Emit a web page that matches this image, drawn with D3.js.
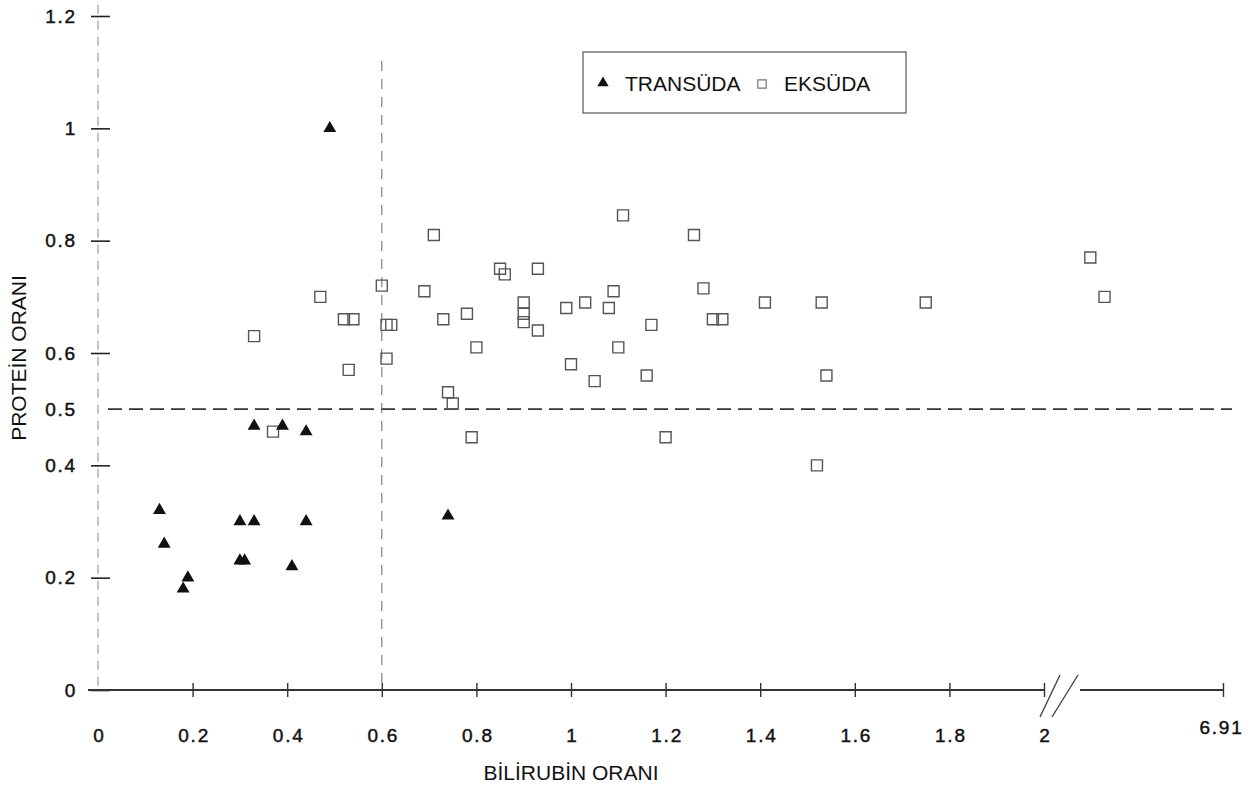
<!DOCTYPE html>
<html>
<head>
<meta charset="utf-8">
<script src="https://cdn.jsdelivr.net/npm/d3@7"></script>
<style>
  body { margin: 0; background: #fff; }
  text { font-family: "Liberation Sans", Arial, sans-serif; fill: #111; }
  .narrow { font-family: "Liberation Sans Narrow", "Arial Narrow", "Liberation Sans", sans-serif; }
  .num { font-family: "Liberation Sans", Arial, sans-serif; font-size: 19px; letter-spacing: 1.8px;
         stroke: #111; stroke-width: 0.45px; }
</style>
</head>
<body>
<svg id="chart" width="1256" height="787"></svg>
<script>
// values
const transudaBilirubin = [0.49, 0.33, 0.39, 0.44, 0.13, 0.14, 0.30, 0.33, 0.44, 0.30, 0.31, 0.41, 0.19, 0.18, 0.74]
const transudaProtein   = [1.00, 0.47, 0.47, 0.46, 0.32, 0.26, 0.30, 0.30, 0.30, 0.23, 0.23, 0.22, 0.20, 0.18, 0.31]

const eksudaBilirubin = [1.11, 1.26, 0.71, 0.85, 0.86, 0.93, 0.60, 0.69, 0.47, 1.28, 1.09, 0.90, 1.03, 1.08, 0.90, 0.99,
  0.52, 0.54, 0.61, 0.62, 0.73, 0.78, 0.90, 0.93, 1.30, 1.32, 1.17, 0.61, 0.80, 1.10, 0.53, 1.00, 1.05, 1.16,
  0.74, 0.75, 0.79, 1.20, 0.33, 0.37, 1.41, 1.53, 1.75, 3.27, 3.66, 1.54, 1.52]
const eksudaProtein = [0.845, 0.81, 0.81, 0.75, 0.74, 0.75, 0.72, 0.71, 0.70, 0.715, 0.71, 0.69, 0.69, 0.68, 0.67, 0.68,
  0.66, 0.66, 0.65, 0.65, 0.66, 0.67, 0.655, 0.64, 0.66, 0.66, 0.65, 0.59, 0.61, 0.61, 0.57, 0.58, 0.55, 0.56,
  0.53, 0.51, 0.45, 0.45, 0.63, 0.46, 0.69, 0.69, 0.69, 0.77, 0.70, 0.56, 0.40]

const xTicks = [0, 0.2, 0.4, 0.6, 0.8, 1, 1.2, 1.4, 1.6, 1.8, 2, 6.91]
const yTicks = [0, 0.2, 0.4, 0.5, 0.6, 0.8, 1, 1.2]
const proteinCut = 0.5
const bilirubinCut = 0.6

const svg = d3.select('#chart')

// broken x axis: 0..2 linear, then a jump to 6.91
const x = d3.scaleLinear().domain([0, 2, 6.91]).range([98, 1044, 1223])
const y = d3.scaleLinear().domain([0, 1.2]).range([690, 16])

// y axis: thin dashed line with crossing ticks
svg.append('line')
  .attr('x1', x(0)).attr('x2', x(0))
  .attr('y1', y(1.22)).attr('y2', y(0))
  .attr('stroke', '#888').attr('stroke-width', 1)
  .attr('stroke-dasharray', '9,7')

const yAxis = svg.append('g')
  .attr('transform', `translate(${x(0)},0)`)
  .call(d3.axisLeft(y).tickValues(yTicks).tickFormat(d3.format('~g')).tickSize(0).tickPadding(21))
yAxis.select('.domain').remove()
yAxis.selectAll('.tick line')
  .attr('x1', -7).attr('x2', 12)
  .attr('stroke', '#222').attr('stroke-width', 1.6)
  .filter(d => d === proteinCut).remove()
yAxis.selectAll('.tick text')
  .attr('class', 'num')
  .attr('fill', '#111')
  .attr('font-size', null).attr('font-family', null)

// x axis: solid line with a break after 2
const axisY = y(0)
svg.append('line')
  .attr('x1', 88).attr('x2', x(2)).attr('y1', axisY).attr('y2', axisY)
  .attr('stroke', '#333').attr('stroke-width', 2)
svg.append('line')
  .attr('x1', 1080).attr('x2', x(6.91)).attr('y1', axisY).attr('y2', axisY)
  .attr('stroke', '#333').attr('stroke-width', 2)
svg.selectAll('.brk')
  .data([[1040, 1060], [1052, 1078]])
  .enter().append('line')
  .attr('x1', d => d[0]).attr('y1', axisY + 27)
  .attr('x2', d => d[1]).attr('y2', axisY - 15)
  .attr('stroke', '#444').attr('stroke-width', 1.4)

const xAxis = svg.append('g')
  .attr('transform', `translate(0,${axisY})`)
  .call(d3.axisBottom(x).tickValues(xTicks).tickFormat(d3.format('~g')).tickSize(0).tickPadding(39))
xAxis.select('.domain').remove()
xAxis.selectAll('.tick line')
  .attr('y1', -7).attr('y2', 7)
  .attr('stroke', '#333').attr('stroke-width', 1.4)
  .filter(d => d === 0).remove()
xAxis.selectAll('.tick text')
  .attr('class', 'num')
  .attr('fill', '#111')
  .attr('font-size', null).attr('font-family', null)
  .attr('dx', 1)
xAxis.selectAll('.tick').filter(d => d === 6.91).select('text').attr('y', 31).attr('dx', -2)

// cut-off lines
svg.append('line')
  .attr('x1', 108).attr('x2', 1232)
  .attr('y1', y(proteinCut)).attr('y2', y(proteinCut))
  .attr('stroke', '#333').attr('stroke-width', 1.6)
  .attr('stroke-dasharray', '14,7')
svg.append('line')
  .attr('x1', x(bilirubinCut)).attr('x2', x(bilirubinCut))
  .attr('y1', y(1.12)).attr('y2', y(0))
  .attr('stroke', '#777').attr('stroke-width', 1.1)
  .attr('stroke-dasharray', '10,8')

// points
const square = d3.symbol().type(d3.symbolSquare).size(121)
const triangle = d3.symbol().type(d3.symbolTriangle).size(72)

svg.append('g').selectAll('path')
  .data(eksudaBilirubin.map((b, i) => [b, eksudaProtein[i]]))
  .enter().append('path')
  .attr('d', square)
  .attr('transform', d => `translate(${x(d[0])},${y(d[1])})`)
  .attr('fill', 'none')
  .attr('stroke', '#555')
  .attr('stroke-width', 1.4)

svg.append('g').selectAll('path')
  .data(transudaBilirubin.map((b, i) => [b, transudaProtein[i]]))
  .enter().append('path')
  .attr('d', triangle)
  .attr('transform', d => `translate(${x(d[0])},${y(d[1])})`)
  .attr('fill', '#111')

// legend
const legend = svg.append('g').attr('transform', 'translate(583,52)')
legend.append('rect')
  .attr('width', 323).attr('height', 61)
  .attr('fill', 'none').attr('stroke', '#555').attr('stroke-width', 1.2)
legend.append('path')
  .attr('d', d3.symbol().type(d3.symbolTriangle).size(55))
  .attr('transform', 'translate(20,31)')
  .attr('fill', '#111')
legend.append('text')
  .attr('x', 42).attr('y', 39)
  .style('font-size', '21px')
  .text('TRANSÜDA')
legend.append('path')
  .attr('d', d3.symbol().type(d3.symbolSquare).size(70))
  .attr('transform', 'translate(179,32)')
  .attr('fill', 'none').attr('stroke', '#777').attr('stroke-width', 1.2)
legend.append('text')
  .attr('x', 201).attr('y', 39)
  .style('font-size', '21px')
  .text('EKSÜDA')

// axis titles
svg.append('text')
  .attr('transform', 'translate(26,358) rotate(-90)')
  .attr('text-anchor', 'middle')
  .style('font-size', '21px')
  .text('PROTEİN ORANI')

svg.append('text')
  .attr('class', 'narrow')
  .attr('x', 571).attr('y', 780)
  .attr('text-anchor', 'middle')
  .style('font-size', '21px')
  .text('BİLİRUBİN ORANI')
</script>
</body>
</html>
